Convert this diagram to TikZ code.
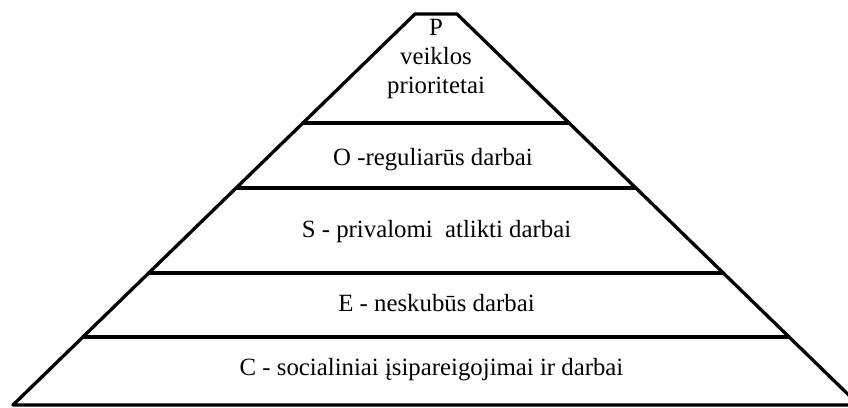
\documentclass[tikz,border=0pt]{standalone}
\usepackage{fontspec}
\setmainfont{Liberation Serif}
\begin{document}
\begin{tikzpicture}[x=1pt,y=-1pt,
  edge/.style={line width=3.3pt, line cap=round, line join=round},
  lbl/.style={font=\fontsize{24.8}{29}\selectfont, inner sep=0pt, align=center}]
\useasboundingbox (0,0) rectangle (848,407);
\coordinate (tl) at (415,14);
\coordinate (tr) at (457,14);
\coordinate (bl) at (13,405);
\coordinate (br) at (859,405);
\draw[edge] (tl) -- (tr) -- (br) -- (bl) -- cycle;
\path (tl) -- (bl) coordinate[pos=0.2788] (l1) coordinate[pos=0.4450] (l2)
      coordinate[pos=0.6624] (l3) coordinate[pos=0.8261] (l4);
\path (tr) -- (br) coordinate[pos=0.2788] (r1) coordinate[pos=0.4450] (r2)
      coordinate[pos=0.6624] (r3) coordinate[pos=0.8261] (r4);
\draw[edge] (l1) -- (r1);
\draw[edge] (l2) -- (r2);
\draw[edge] (l3) -- (r3);
\draw[edge] (l4) -- (r4);
\node[lbl, anchor=north] (p) at (436,19.5) {P\\veiklos\\prioritetai};
\node[lbl, anchor=base] (o) at (433,165) {O -reguliarūs darbai};
\node[lbl, anchor=base] (s) at (436.5,237) {S - privalomi\ \ atlikti darbai};
\node[lbl, anchor=base] (e) at (436.5,311) {E - neskubūs darbai};
\node[lbl, anchor=base] (c) at (431.5,375) {C - socialiniai įsipareigojimai ir darbai};
\end{tikzpicture}
\end{document}
